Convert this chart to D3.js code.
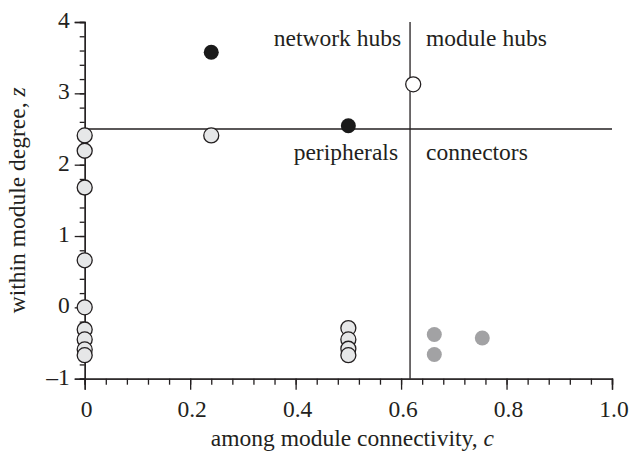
<!DOCTYPE html>
<html>
<head>
<meta charset="utf-8">
<script src="https://cdn.jsdelivr.net/npm/d3@7"></script>
<style>
  body { margin: 0; background: #fff; }
  #wrap { position: relative; width: 631px; height: 452px; }
  #wrap svg { position: absolute; left: 0; top: 0; }
  .hl { position: absolute; white-space: nowrap; font-family: "Liberation Serif", serif; font-size: 23.5px; color: #231f20; line-height: 1; }
</style>
</head>
<body>
<div id="wrap"><svg id="chart" width="631" height="452"></svg></div>
<script>
// ---- data ----
// peripheral / low nodes (light grey, outlined)
const lightC = [0, 0, 0, 0, 0, 0, 0, 0, 0, 0.24, 0.5, 0.5, 0.5, 0.5];
const lightZ = [2.41, 2.195, 1.68, 0.66, 0.0, -0.31, -0.45, -0.59, -0.67, 2.41, -0.29, -0.45, -0.58, -0.67];
// network hubs (black)
const hubC = [0.24, 0.5];
const hubZ = [3.575, 2.546];
// module hub (white, outlined)
const moduleC = [0.623];
const moduleZ = [3.126];
// connectors (mid grey)
const connC = [0.663, 0.663, 0.754];
const connZ = [-0.38, -0.66, -0.43];

const xTicks = [0, 0.2, 0.4, 0.6, 0.8, 1.0];
const xTickLabels = ["0", "0.2", "0.4", "0.6", "0.8", "1.0"];
const yTicks = [4, 3, 2, 1, 0, -1];
const yTickLabels = ["4", "3", "2", "1", "0", "\u20131"];
const cThreshold = 0.617;
const zThreshold = 2.5;
const quadrantLabels = ["network hubs", "module hubs", "peripherals", "connectors"];
const xTitle = "among module connectivity, ";
const yTitle = "within module degree, ";

// ---- layout ----
const FONT = '"Liberation Serif"';
const fs = 23.5;
const svg = d3.select("#chart");
const wrap = d3.select("#wrap");
const x = d3.scaleLinear().domain([0, 1]).range([84.7, 612]);
const y = d3.scaleLinear().domain([-1, 4]).range([378.7, 22]);
const ink = "#231f20";

const xMinor = d3.range(0, 1.0001, 0.04).map(v => +v.toFixed(2));
const yMinor = d3.range(-1, 4.0001, 0.2).map(v => +v.toFixed(1));

// reference lines
svg.append("line")
  .attr("x1", x(0)).attr("x2", x(1))
  .attr("y1", y(zThreshold)).attr("y2", y(zThreshold))
  .attr("stroke", ink).attr("stroke-width", 1.3);
svg.append("line")
  .attr("x1", x(cThreshold)).attr("x2", x(cThreshold))
  .attr("y1", y(-1)).attr("y2", y(4))
  .attr("stroke", ink).attr("stroke-width", 1.3);

function styleAxis(g) {
  g.select(".domain").attr("stroke", ink).attr("stroke-width", 1.3);
  g.selectAll(".tick line").attr("stroke", ink).attr("stroke-width", 1.3);
  g.selectAll(".tick text").remove();
}

// HTML label placed by D3; anchor: "start" | "middle" | "end"; ty = baseline
function htmlLabel(tx, ty, anchor, s) {
  const d = wrap.append("div").attr("class", "hl").text(s);
  const node = d.node();
  const w = node.getBoundingClientRect().width;
  const h = node.getBoundingClientRect().height;
  const dx = anchor === "end" ? -w : anchor === "middle" ? -w / 2 : 0;
  // baseline of a 1.0 line-height box sits at ~0.891em for Liberation Serif
  d.style("left", (tx + dx) + "px").style("top", (ty - 0.891 * fs - (h - fs) / 2) + "px");
  return d;
}

// x axis
const xMinorG = svg.append("g").attr("transform", `translate(0,${y(-1)})`)
  .call(d3.axisBottom(x).tickValues(xMinor).tickSize(6).tickFormat(""));
const xMajorG = svg.append("g").attr("transform", `translate(0,${y(-1)})`)
  .call(d3.axisBottom(x).tickValues(xTicks).tickSize(11));
styleAxis(xMinorG); styleAxis(xMajorG);
xTicks.forEach((v, i) => htmlLabel(x(v) + 2, y(-1) + 40, "middle", xTickLabels[i]));

// y axis
const yMinorG = svg.append("g").attr("transform", `translate(${x(0)},0)`)
  .call(d3.axisLeft(y).tickValues(yMinor).tickSize(5).tickFormat(""));
const yMajorG = svg.append("g").attr("transform", `translate(${x(0)},0)`)
  .call(d3.axisLeft(y).tickValues(yTicks).tickSize(10));
styleAxis(yMinorG); styleAxis(yMajorG);
yTicks.forEach((v, i) => htmlLabel(x(0) - 15, y(v) + 8, "end", yTickLabels[i]));

// points
const r = 7.5;
function drawPoints(cs, zs, fill, stroke) {
  svg.append("g").selectAll("circle")
    .data(cs.map((c, i) => ({ c, z: zs[i] })))
    .join("circle")
    .attr("cx", d => x(d.c))
    .attr("cy", d => y(d.z))
    .attr("r", r)
    .attr("fill", fill)
    .attr("stroke", stroke || "none")
    .attr("stroke-width", 1.3);
}
drawPoints(lightC, lightZ, "#e6e7e8", ink);
drawPoints(hubC, hubZ, "#1a1a1a", null);
drawPoints(moduleC, moduleZ, "#ffffff", ink);
drawPoints(connC, connZ, "#a2a2a4", null);

// quadrant labels
const lx = x(cThreshold), ly = y(zThreshold);
htmlLabel(lx - 9, ly - 81, "end", quadrantLabels[0]);
htmlLabel(lx + 16, ly - 81, "start", quadrantLabels[1]);
htmlLabel(lx - 12, ly + 33, "end", quadrantLabels[2]);
htmlLabel(lx + 16, ly + 33, "start", quadrantLabels[3]);

// axis titles (SVG, these render correctly)
const xt = svg.append("text")
  .attr("x", (x(0) + x(1)) / 2 + 4).attr("y", 446)
  .attr("text-anchor", "middle")
  .attr("font-family", FONT).attr("font-size", fs).attr("fill", ink);
xt.append("tspan").text(xTitle);
xt.append("tspan").attr("font-style", "italic").text("c");

const yt = svg.append("text")
  .attr("transform", `translate(25,${(y(-1) + y(4)) / 2}) rotate(-90)`)
  .attr("text-anchor", "middle")
  .attr("font-family", FONT).attr("font-size", fs).attr("fill", ink);
yt.append("tspan").text(yTitle);
yt.append("tspan").attr("font-style", "italic").text("z");
</script>
</body>
</html>
